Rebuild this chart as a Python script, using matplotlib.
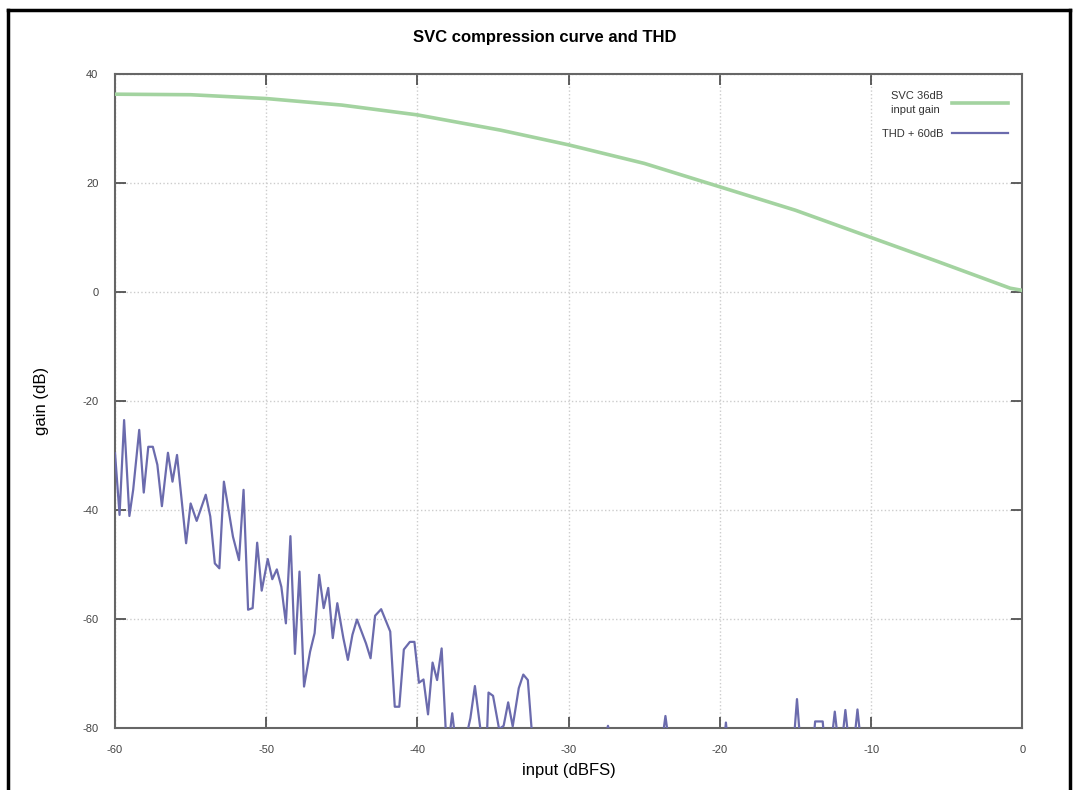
import numpy as np
import matplotlib
matplotlib.use('Agg')
import matplotlib.pyplot as plt
from matplotlib.lines import Line2D

plt.rcParams['font.family'] = ['Liberation Sans', 'DejaVu Sans']
plt.rcParams['axes.unicode_minus'] = False

# SVC gain curve (dB) vs input (dBFS)
svc_x = [-60, -55, -50, -45, -40, -34.5, -30, -25, -20, -15, -10.5, -5.6, -0.8, 0]
svc_y = [36.3, 36.2, 35.5, 34.3, 32.5, 29.7, 27.0, 23.6, 19.3, 15.0, 10.5, 5.6, 0.7, 0.3]

# THD + 60dB, values below -80 are off the chart
thd_x = [-60, -59.7, -59.4, -59.05, -58.8, -58.4, -58.1, -57.8, -57.5, -57.2, -56.9, -56.5,
         -56.2, -55.9, -55.3, -55.0, -54.6, -54.0, -53.7, -53.4, -53.1, -52.8, -52.2, -51.8,
         -51.5, -51.2, -50.9, -50.6, -50.3, -49.9, -49.6, -49.3, -49.0, -48.7, -48.4, -48.1,
         -47.8, -47.5, -47.1, -46.8, -46.5, -46.2, -45.9, -45.6, -45.3, -44.9, -44.6, -44.3,
         -44.0, -43.4, -43.1, -42.8, -42.4, -41.8, -41.5, -41.2, -40.9, -40.5, -40.2, -39.9,
         -39.6, -39.3, -39.0, -38.7, -38.4, -38.1, -37.9, -37.7, -37.5, -36.8, -36.5, -36.2,
         -35.8, -35.4, -35.3, -35.0, -34.6, -34.3, -34.0, -33.7, -33.3, -33.0, -32.7, -32.4,
         -27.6, -27.4, -27.2, -23.8, -23.6, -23.4, -19.7, -19.6, -19.5,
         -15.1, -14.9, -14.7, -13.8, -13.7, -13.2, -13.1, -12.6, -12.4, -12.2,
         -11.9, -11.7, -11.5, -11.1, -10.9, -10.7, 0]
thd_y = [-29.6, -40.9, -23.5, -41.1, -36.3, -25.3, -36.8, -28.4, -28.4, -31.7, -39.3, -29.5,
         -34.8, -29.9, -46.1, -38.8, -42.0, -37.2, -41.2, -49.8, -50.7, -34.8, -44.9, -49.2,
         -36.3, -58.3, -58.0, -46.0, -54.8, -49.0, -52.7, -50.9, -54.1, -60.8, -44.8, -66.4,
         -51.3, -72.4, -66.0, -62.6, -51.9, -58.0, -54.3, -63.5, -57.1, -63.5, -67.5, -62.9,
         -60.1, -64.5, -67.2, -59.4, -58.2, -62.3, -76.1, -76.1, -65.6, -64.2, -64.2, -71.7,
         -71.1, -77.5, -68.0, -71.2, -65.4, -82, -82, -77.3, -82, -82, -78.2, -72.3,
         -81, -81, -73.5, -74.1, -80.2, -79.6, -75.3, -79.7, -72.7, -70.2, -71.2, -82,
         -82, -79.6, -82, -82, -77.8, -82, -82, -79.0, -82,
         -82, -74.7, -82, -82, -78.8, -78.8, -82, -82, -77.0, -82,
         -82, -76.7, -82, -82, -76.6, -82, -82]

xticks = [-60, -50, -40, -30, -20, -10, 0]
yticks = [40, 20, 0, -20, -40, -60, -80]

fig = plt.figure(figsize=(10.77, 7.9), dpi=100)
ax = fig.add_axes([0.1068, 0.0785, 0.8424, 0.8278])

ax.plot(svc_x, svc_y, color='#a3d3a0', lw=2.6, label='SVC 36dB\ninput gain', zorder=3)
ax.plot(thd_x, thd_y, color='#6b6bad', lw=1.6, label='THD + 60dB', zorder=4)

ax.set_xlim(-60, 0)
ax.set_ylim(-80, 40)
ax.set_xticks(xticks)
ax.set_yticks(yticks)
ax.tick_params(direction='in', length=8, width=1.2, colors='#444444', labelsize=8,
               top=True, right=True, pad=12, labelcolor='#444444')
ax.grid(True, ls=':', color='#cccccc', lw=1)
for s in ax.spines.values():
    s.set_color('#666666')
    s.set_linewidth(1.5)

ax.set_xlabel('input (dBFS)', fontsize=12, labelpad=6)
ax.set_ylabel('gain (dB)', fontsize=12, labelpad=24)

leg = ax.legend(loc='upper right', markerfirst=False, frameon=False, fontsize=8,
                handlelength=5, bbox_to_anchor=(0.995, 0.99), labelspacing=1.3)
for t in leg.get_texts():
    t.set_multialignment('left')
    t.set_linespacing(1.5)
    t.set_color('#333333')

fig.text(0.506, 0.953, 'SVC compression curve and THD', ha='center', va='center',
         fontsize=12, fontweight='bold')

# page border
fig.add_artist(Line2D([0.0075, 0.0075], [0, 0.987], transform=fig.transFigure, color='black', lw=2.5))
fig.add_artist(Line2D([0.0075, 0.9935], [0.987, 0.987], transform=fig.transFigure, color='black', lw=2.5))
fig.add_artist(Line2D([0.9935, 0.9935], [0, 0.987], transform=fig.transFigure, color='black', lw=2.5))

fig.savefig('out.png', dpi=100)
